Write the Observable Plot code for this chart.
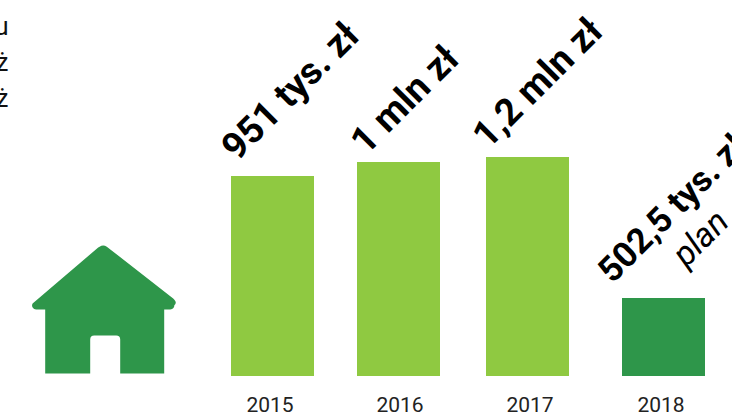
<!DOCTYPE html>
<html><head><meta charset="utf-8">
<script src="https://cdn.jsdelivr.net/npm/d3@7"></script>
<script src="https://cdn.jsdelivr.net/npm/@observablehq/plot@0.6"></script>
<style>html,body{margin:0;padding:0;background:#fff;overflow:hidden}svg{display:block}</style>
</head><body><div id="chart"></div>
<script>
const years = [2015, 2016, 2017, 2018];
const valuesThousandPln = [951, 1000, 1200, 502.5];
const valueLabels = ["951 tys. zł", "1 mln zł", "1,2 mln zł", "502,5 tys. zł"];
const barStatus = ["actual", "actual", "actual", "plan"];
const planNote = "plan";
const clippedIntro = ["u", "ż", "ż"];

const rows = years.map((year, i) => ({year, value: valuesThousandPln[i], label: valueLabels[i], status: barStatus[i]}));
const font = "Roboto, sans-serif";

const houseSymbol = {
  draw(c) {
    c.moveTo(-5, -64);
    c.arcTo(0, -67, 5, -64, 7);
    c.lineTo(70, -13);
    c.arcTo(74, -9, 70, -5, 4);
    c.arcTo(72, -2, 68, -2, 4);
    c.lineTo(61, -2);
    c.lineTo(61, 62);
    c.lineTo(17, 62);
    c.lineTo(17, 28);
    c.arcTo(17, 24, 13, 24, 4);
    c.lineTo(-9, 24);
    c.arcTo(-13, 24, -13, 28, 4);
    c.lineTo(-13, 62);
    c.lineTo(-58, 62);
    c.lineTo(-58, -2);
    c.lineTo(-67, -2);
    c.arcTo(-74, -2, -70, -9, 4);
    c.closePath();
  }
};

const labelOffsets = [[-44, -23], [-41, -15], [-48, -16], [-59, -22]];
const labelSizes = [37.5, 37.5, 37.5, 35];
const yearShift = [-2, 2, 3, -2];
const introLines = [[8, 17], [8, 53], [8, 89]];

const chart = Plot.plot({
  width: 732, height: 414,
  marginTop: 0, marginRight: 0, marginBottom: 0, marginLeft: 0,
  style: {background: "#fff", fontFamily: font},
  x: {type: "linear", domain: years, range: [272, 398, 527, 663], axis: null},
  y: {type: "linear", domain: [0, 502.5, 951, 1000, 1200], range: [376, 298, 176, 162, 157], axis: null},
  marks: [
    Plot.ruleX(rows, {x: "year", y1: 0, y2: "value", strokeWidth: 83, strokeLinecap: "butt", strokeOpacity: 1,
      stroke: d => d.status === "plan" ? "#2e964a" : "#8fc941"}),
    Plot.dot([0], {frameAnchor: "top-left", dx: 102.7, dy: 311, r: 10, symbol: houseSymbol, fill: "#2e964a", stroke: "none"}),
    ...rows.map((d, i) => Plot.text([d], {
      x: "year", y: "value", text: "label", rotate: -45, textAnchor: "start",
      dx: labelOffsets[i][0], dy: labelOffsets[i][1],
      fontSize: labelSizes[i], fontWeight: 700, fontFamily: font, fill: "#000"
    })),
    Plot.text([rows[3]], {x: "year", y: "value", text: () => planNote, rotate: -45, textAnchor: "start",
      dx: 15, dy: -38, fontSize: 34, fontStyle: "italic", fontWeight: 400, fontFamily: font, fill: "#000"}),
    ...rows.map((d, i) => Plot.text([d], {
      x: "year", y: () => 0, text: r => String(r.year), dx: yearShift[i] - 0.5, dy: 29,
      fontSize: 21, fontFamily: font, fill: "#222"
    })),
    ...clippedIntro.map((t, i) => Plot.text([t], {
      frameAnchor: "top-left", text: r => r, textAnchor: "end",
      dx: introLines[i][0], dy: introLines[i][1], fontSize: 25, fontFamily: font, fill: "#111"
    }))
  ]
});
document.getElementById("chart").append(chart);
</script></body></html>
